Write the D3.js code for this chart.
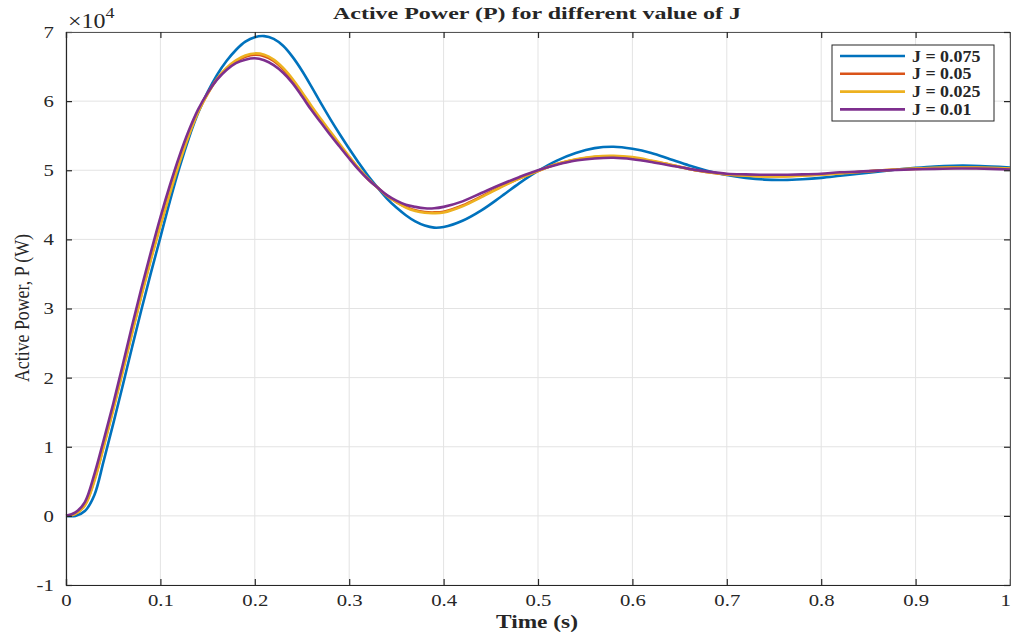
<!DOCTYPE html>
<html>
<head>
<meta charset="utf-8">
<script src="https://cdn.jsdelivr.net/npm/d3@7"></script>
<style>
  body { margin: 0; background: #fff; }
  text { font-family: "Liberation Serif", "DejaVu Serif", serif; fill: #262626; }
</style>
</head>
<body>
<svg id="chart" width="1011" height="633"></svg>
<script>
// time axis (s)
var time = [0,0.01,0.02,0.03,0.04,0.05,0.06,0.07,0.08,0.09,
  0.10,0.11,0.12,0.13,0.14,0.15,0.16,0.17,0.18,0.19,
  0.20,0.21,0.22,0.23,0.24,0.25,0.26,0.27,0.28,0.29,
  0.30,0.31,0.32,0.33,0.34,0.35,0.36,0.37,0.38,0.39,0.40,
  0.42,0.44,0.46,0.48,0.50,0.52,0.54,0.56,0.58,0.60,
  0.62,0.64,0.66,0.68,0.70,0.72,0.74,0.76,0.78,0.80,
  0.82,0.84,0.86,0.88,0.90,0.92,0.94,0.96,0.98,1.0];

// active power, x10^4 W
var pJ075 = [0,0.0,0.07,0.3,0.8,1.33,1.88,2.44,2.99,3.52,
  4.03,4.55,5.03,5.46,5.83,6.13,6.38,6.58,6.74,6.86,
  6.925,6.94,6.9,6.8,6.64,6.44,6.21,5.97,5.74,5.52,
  5.31,5.11,4.92,4.75,4.59,4.46,4.35,4.26,4.2,4.17,4.18,
  4.27,4.42,4.61,4.81,4.99,5.14,5.25,5.32,5.34,5.31,
  5.25,5.16,5.07,4.99,4.93,4.89,4.865,4.86,4.87,4.89,
  4.92,4.95,4.98,5.01,5.035,5.055,5.065,5.065,5.055,5.04];

var pJ05 = [0,0.03,0.16,0.52,1.02,1.55,2.1,2.66,3.21,3.73,
  4.22,4.68,5.12,5.51,5.85,6.11,6.32,6.47,6.57,6.64,
  6.67,6.65,6.58,6.46,6.3,6.11,5.91,5.72,5.54,5.36,
  5.19,5.02,4.87,4.75,4.63,4.54,4.47,4.42,4.395,4.39,4.4,
  4.49,4.62,4.76,4.88,4.99,5.09,5.15,5.19,5.2,5.18,
  5.13,5.08,5.02,4.97,4.94,4.925,4.915,4.915,4.925,4.94,
  4.96,4.975,4.995,5.01,5.02,5.03,5.035,5.035,5.03,5.02];

var pJ025 = [0,0.03,0.15,0.5,1.0,1.53,2.08,2.64,3.19,3.71,
  4.2,4.66,5.1,5.5,5.84,6.1,6.32,6.48,6.59,6.66,
  6.69,6.67,6.6,6.48,6.32,6.13,5.93,5.74,5.56,5.38,
  5.2,5.03,4.88,4.75,4.63,4.54,4.46,4.41,4.385,4.38,4.39,
  4.48,4.61,4.75,4.88,4.99,5.09,5.16,5.2,5.21,5.19,
  5.14,5.08,5.02,4.97,4.94,4.92,4.91,4.91,4.92,4.935,
  4.955,4.975,4.995,5.01,5.025,5.035,5.04,5.04,5.035,5.025];

var pJ01 = [0,0.05,0.2,0.6,1.1,1.62,2.18,2.75,3.3,3.82,
  4.32,4.78,5.2,5.57,5.88,6.12,6.31,6.45,6.55,6.6,
  6.62,6.59,6.52,6.41,6.26,6.07,5.87,5.69,5.51,5.34,
  5.17,5.01,4.87,4.75,4.64,4.56,4.5,4.47,4.45,4.45,4.47,
  4.55,4.67,4.79,4.9,5.0,5.08,5.14,5.17,5.18,5.16,
  5.12,5.07,5.02,4.98,4.95,4.94,4.935,4.935,4.94,4.95,
  4.97,4.98,4.995,5.005,5.015,5.02,5.025,5.025,5.02,5.01];

var seriesNames = ["J = 0.075", "J = 0.05", "J = 0.025", "J = 0.01"];
var seriesData = [pJ075, pJ05, pJ025, pJ01];
var colors = ["#0072BD", "#D95319", "#EDB120", "#7E2F8E"];

var xTicks = [0,0.1,0.2,0.3,0.4,0.5,0.6,0.7,0.8,0.9,1];
var yTicks = [-1,0,1,2,3,4,5,6,7];

var svg = d3.select("#chart");
var plotL = 66, plotR = 1010, plotT = 32, plotB = 585;

var x = d3.scaleLinear().domain([0, 1]).range([plotL, plotR]);
var y = d3.scaleLinear().domain([-1, 7]).range([plotB, plotT]);

// grid
var grid = svg.append("g");
grid.selectAll("line.gx").data(xTicks).enter().append("line")
  .attr("x1", function(d){ return x(d); }).attr("x2", function(d){ return x(d); })
  .attr("y1", plotT).attr("y2", plotB)
  .attr("stroke", "#e3e3e3").attr("stroke-width", 1);
grid.selectAll("line.gy").data(yTicks).enter().append("line")
  .attr("y1", function(d){ return y(d); }).attr("y2", function(d){ return y(d); })
  .attr("x1", plotL).attr("x2", plotR)
  .attr("stroke", "#e3e3e3").attr("stroke-width", 1);

// curves
var line = d3.line()
  .x(function(d, i){ return x(time[i]); })
  .y(function(d){ return y(d); })
  .curve(d3.curveCatmullRom.alpha(0.5));

svg.append("g").selectAll("path").data(seriesData).enter().append("path")
  .attr("d", function(d){ return line(d); })
  .attr("fill", "none")
  .attr("stroke", function(d, i){ return colors[i]; })
  .attr("stroke-width", 2.6)
  .attr("stroke-linejoin", "round");

// axes (ticks pointing inward, box on)
var xAxis = d3.axisBottom(x).tickValues(xTicks).tickSize(-6).tickPadding(9)
  .tickFormat(function(d){ return d === 0 ? "0" : d === 1 ? "1" : d3.format(".1f")(d); });
var yAxis = d3.axisLeft(y).tickValues(yTicks).tickSize(-6).tickPadding(10)
  .tickFormat(function(d){ return d < 0 ? "-" + Math.abs(d) : String(d); });

var gx = svg.append("g").attr("transform", "translate(0," + plotB + ")").call(xAxis);
var gy = svg.append("g").attr("transform", "translate(" + plotL + ",0)").call(yAxis);
var gxt = svg.append("g").attr("transform", "translate(0," + plotT + ")")
  .call(d3.axisTop(x).tickValues(xTicks).tickSize(-6).tickFormat(""));
var gyr = svg.append("g").attr("transform", "translate(" + plotR + ",0)")
  .call(d3.axisRight(y).tickValues(yTicks).tickSize(-6).tickFormat(""));

[gx, gy, gxt, gyr].forEach(function(g){
  g.select(".domain").attr("stroke", "#262626").attr("stroke-width", 1.2);
  g.selectAll(".tick line").attr("stroke", "#262626").attr("stroke-width", 1.2);
});
gx.selectAll(".tick text").attr("font-size", 17).attr("font-family", "Liberation Serif")
  .attr("fill", "#262626").attr("transform", "scale(1.22,1)");
gy.selectAll(".tick text").attr("font-size", 17).attr("font-family", "Liberation Serif")
  .attr("fill", "#262626").attr("transform", "scale(1.22,1)");
gx.selectAll(".tick").filter(function(d){ return d === 1; }).select("text").attr("dx", -4);
gxt.select(".domain").attr("stroke", "#555");
gyr.select(".domain").attr("stroke", "#555");

// exponent label
var ex = svg.append("text").attr("transform", "translate(68,28) scale(1.2,1)").attr("font-size", 20);
ex.append("tspan").text("\u00d710");
ex.append("tspan").attr("font-size", 15).attr("dy", -10).text("4");

// title
svg.append("text").attr("x", 537).attr("y", 19).attr("text-anchor", "middle")
  .attr("font-size", 17).attr("font-weight", "bold")
  .attr("textLength", 408).attr("lengthAdjust", "spacingAndGlyphs")
  .text("Active Power (P) for different value of J");

// axis labels
svg.append("text").attr("x", 537).attr("y", 628).attr("text-anchor", "middle")
  .attr("font-size", 19).attr("font-weight", "bold")
  .attr("textLength", 82).attr("lengthAdjust", "spacingAndGlyphs")
  .text("Time (s)");
svg.append("text").attr("transform", "translate(29,308) rotate(-90)")
  .attr("text-anchor", "middle").attr("font-size", 22)
  .attr("textLength", 148).attr("lengthAdjust", "spacingAndGlyphs")
  .text("Active Power, P (W)");

// legend
var lg = svg.append("g");
lg.append("rect").attr("x", 832).attr("y", 45).attr("width", 162).attr("height", 76)
  .attr("fill", "#fff").attr("stroke", "#262626").attr("stroke-width", 1);
var items = lg.selectAll("g.item").data(seriesNames).enter().append("g")
  .attr("transform", function(d, i){ return "translate(0," + (56 + i * 17.8) + ")"; });
items.append("line").attr("x1", 840).attr("x2", 905).attr("y1", 0).attr("y2", 0)
  .attr("stroke", function(d, i){ return colors[i]; }).attr("stroke-width", 2.6);
items.append("text").attr("transform", "translate(912,5.5) scale(1.12,1)")
  .attr("font-size", 16).attr("font-weight", "bold")
  .text(function(d){ return d; });
</script>
</body>
</html>
